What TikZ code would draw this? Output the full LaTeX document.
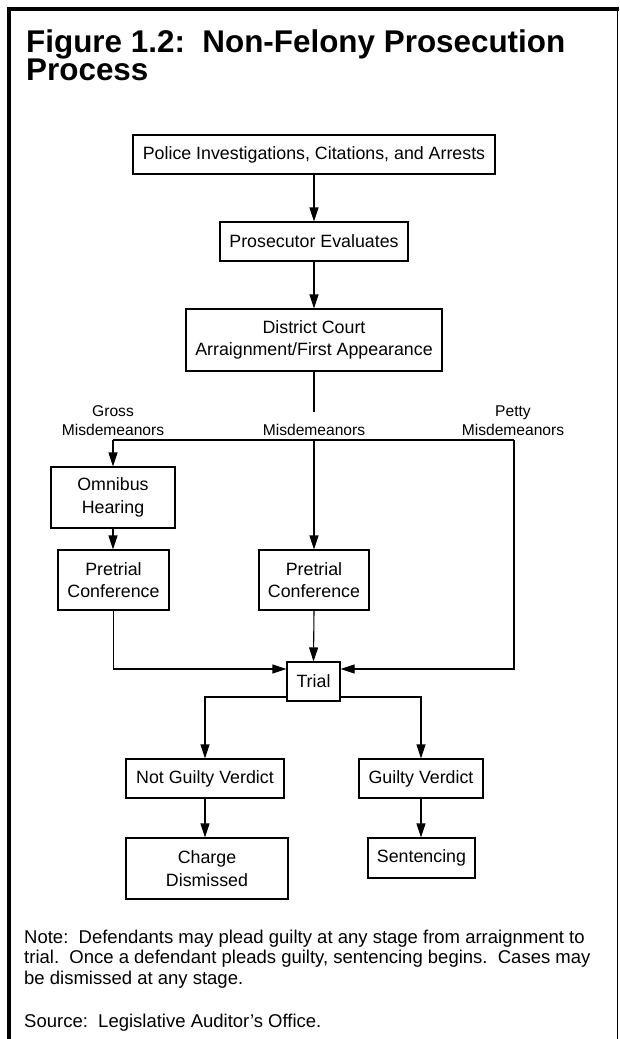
\documentclass[tikz,border=0pt]{standalone}
\usepackage{fontspec}
\setmainfont{Liberation Sans}
\usetikzlibrary{arrows.meta}
\begin{document}
\begin{tikzpicture}[x=1pt,y=-1pt,
  box/.style={draw, line width=1.1pt, inner sep=0pt, align=center, font=\fontsize{17.8}{22.3}\selectfont},
  conn/.style={line width=1.1pt},
  arr/.style={conn, -{Triangle[length=14pt,width=9pt]}},
  lbl/.style={inner sep=0pt, align=center, font=\fontsize{15.6}{19}\selectfont},
  ttl/.style={anchor=base west, inner sep=0pt, font=\fontsize{31.4}{28}\selectfont\bfseries},
  body/.style={inner sep=0pt, align=left, font=\fontsize{18.5}{20.5}\selectfont}]
\useasboundingbox (0,0) rectangle (619,1039);
% frame
\draw[line width=4pt] (9,1039) -- (9,9) -- (619,9);
\draw[line width=1.3pt] (617.5,9) -- (617.5,1039);
% title
\node[ttl] (t1) at (26,52) {Figure 1.2:~~Non-Felony Prosecution};
\node[ttl] (t2) at (26,80.5) {Process};
% boxes
\node[box, minimum width=362pt, minimum height=39pt] (police) at (314,154.5) {Police Investigations, Citations, and Arrests};
\node[box, minimum width=188pt, minimum height=39pt] (pros) at (314,241.5) {Prosecutor Evaluates};
\node[box, minimum width=256pt, minimum height=62pt] (district) at (314,340) {District Court\\Arraignment/First Appearance};
\node[box, minimum width=124pt, minimum height=61pt] (omnibus) at (113,497.5) {Omnibus\\Hearing};
\node[box, minimum width=111pt, minimum height=60pt] (pre1) at (113.5,580) {Pretrial\\Conference};
\node[box, minimum width=110pt, minimum height=60pt] (pre2) at (314,580) {Pretrial\\Conference};
\node[box, minimum width=53pt, minimum height=39pt] (trial) at (313.5,681.5) {Trial};
\node[box, minimum width=158pt, minimum height=39pt] (notg) at (205,778.5) {Not Guilty Verdict};
\node[box, minimum width=124pt, minimum height=39pt] (guilty) at (421,778.5) {Guilty Verdict};
\node[box, minimum width=162pt, minimum height=61pt] (charge) at (207,868.5) {Charge\\Dismissed};
\node[box, minimum width=107pt, minimum height=40pt] (sent) at (421.5,858) {Sentencing};
% labels
\node[lbl] (gross) at (113,420.5) {Gross\\Misdemeanors};
\node[lbl] (misd) at (314,430) {Misdemeanors};
\node[lbl] (petty) at (513,420.5) {Petty\\Misdemeanors};
% coordinates
\coordinate (dend) at (314,412);
\coordinate (hl) at (113,440);
\coordinate (hm) at (314,440);
\coordinate (hr) at (514,440);
\coordinate (tr) at (514,669);
\coordinate (bl) at (205,697);
\coordinate (br) at (421,697);
% connectors
\draw[arr] (police) -- (pros);
\draw[arr] (pros) -- (district);
\draw[conn] (district.south) -- (dend);
\draw[conn] (hl) -- (hr);
\draw[arr] (hl) -- (omnibus.north);
\draw[arr] (hm) -- (pre2.north);
\draw[arr] (omnibus.south) -- (omnibus.south |- pre1.north);
\draw[arr] (hr) -- (tr) -- (trial.east |- tr);
\draw[arr] (pre1.south) |- (trial.west |- tr);
\draw[arr] (pre2.south) -- (trial.north);
\draw[arr] (trial.west |- bl) -| (notg.north);
\draw[arr] (trial.east |- br) -| (guilty.north);
\draw[arr] (notg.south) -- (notg.south |- charge.north);
\draw[arr] (guilty.south) -- (guilty.south |- sent.north);
% note
\node[body, anchor=north west] (note) at (24,929.5) {Note:~~Defendants may plead guilty at any stage from arraignment to\\trial.~~Once a defendant pleads guilty, sentencing begins.~~Cases may\\be dismissed at any stage.};
\node[body, anchor=base west] (src) at (24,1027) {Source:~~Legislative Auditor's Office.};
\end{tikzpicture}
\end{document}
